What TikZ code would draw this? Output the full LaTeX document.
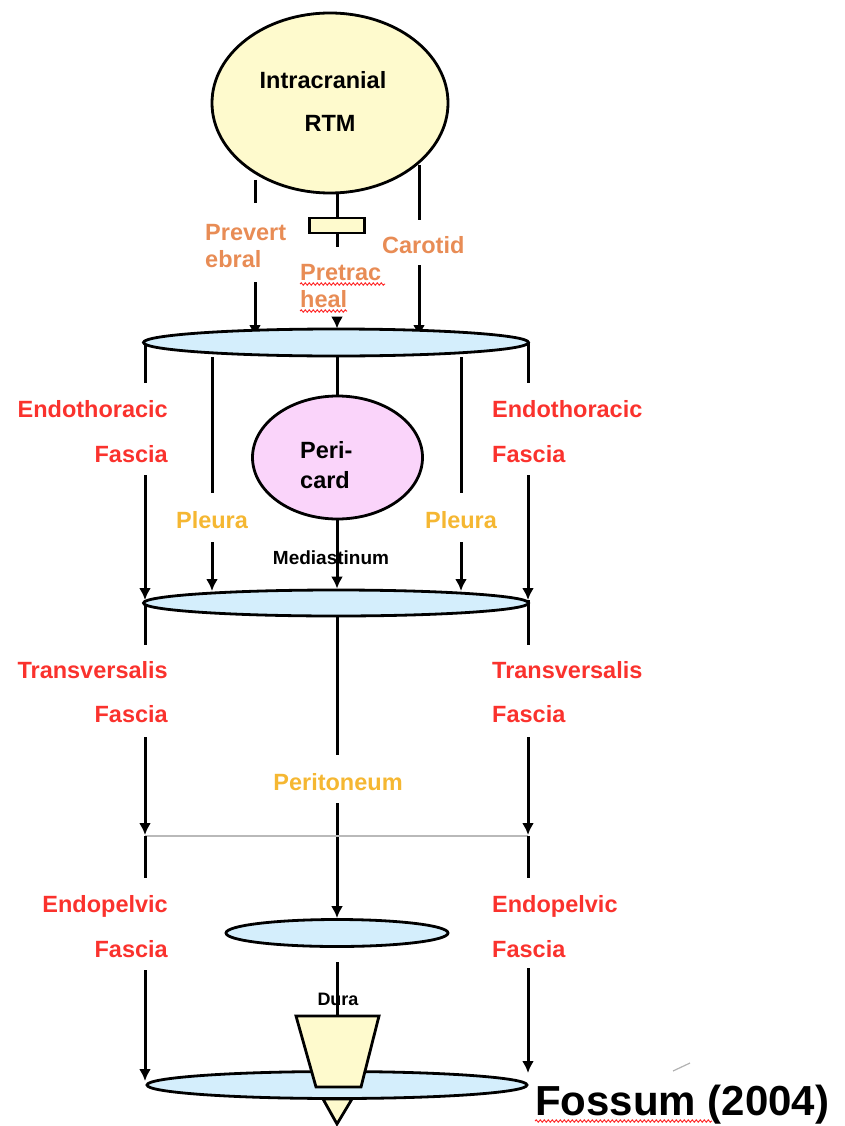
\documentclass[tikz,border=0pt]{standalone}
\usepackage{fontspec}
\setmainfont{Liberation Sans}
\usetikzlibrary{shapes.geometric,arrows.meta,decorations.pathmorphing,backgrounds}
\definecolor{redtxt}{RGB}{250,50,45}
\definecolor{orgtxt}{RGB}{232,140,85}
\definecolor{goldtxt}{RGB}{245,183,50}
\definecolor{yelfill}{RGB}{254,250,205}
\definecolor{bluefill}{RGB}{212,238,252}
\definecolor{pinkfill}{RGB}{250,212,250}
\begin{document}
\begin{tikzpicture}[x=1pt,y=-1pt,
  ln/.style={line width=3pt,black},
  arr/.style={ln,-{Latex[length=12pt,width=12pt]}},
  disc/.style={ellipse,draw,line width=2.8pt,inner sep=0pt,fill=bluefill},
  lbl/.style={font=\fontsize{23.5}{27}\selectfont\bfseries,inner sep=0pt},
  redl/.style={lbl,text=redtxt},
  orgl/.style={lbl,text=orgtxt},
  goldl/.style={lbl,text=goldtxt},
  blk/.style={lbl,text=black},
  squig/.style={red!85,line width=1pt,decorate,decoration={snake,amplitude=1.1pt,segment length=4pt}}]
\useasboundingbox (0,0) rectangle (844,1126);
% ellipses
\node[disc,fill=yelfill,minimum width=236pt,minimum height=180pt] (icr) at (330,103) {};
\node[draw,line width=2.8pt,fill=yelfill,minimum width=55pt,minimum height=15pt,inner sep=0pt] (rect) at (337,225.5) {};
\node[disc,minimum width=385pt,minimum height=27pt] (e2) at (336,342.5) {};
\node[disc,fill=pinkfill,minimum width=170pt,minimum height=123pt] (peri) at (337.5,457.5) {};
\node[disc,minimum width=385pt,minimum height=26pt] (e3) at (336,603) {};
\node[disc,minimum width=222pt,minimum height=27pt] (e4) at (337,933) {};
\node[disc,minimum width=380pt,minimum height=27pt] (e5) at (337,1085) {};
% trapezoid and triangle
\coordinate (trapTop) at (337,1016);
\draw[ln,line width=2.8pt,fill=yelfill] (296,1016) -- (379,1016) -- (361,1087) -- (316,1087) -- cycle;
\draw[ln,line width=2.8pt,fill=yelfill] (323,1099) -- (352,1099) -- (337,1124) -- cycle;
% texts
\node[blk,anchor=base] (t1) at (323,89) {Intracranial};
\node[blk,anchor=base] (t2) at (330,132) {RTM};
\node[orgl,anchor=base west] (prev1) at (205,240) {Prevert};
\node[orgl,anchor=base west] (prev2) at (205,267) {ebral};
\node[orgl,anchor=base west] (pre1) at (300,280) {Pretrac};
\node[orgl,anchor=base west] (pre2) at (300,307) {heal};
\node[orgl,anchor=base west] (car) at (382,253) {Carotid};
\node[redl,anchor=base east] (eL1) at (168,417) {Endothoracic};
\node[redl,anchor=base east] (eL2) at (168,462) {Fascia};
\node[redl,anchor=base west] (eR1) at (492,417) {Endothoracic};
\node[redl,anchor=base west] (eR2) at (492,462) {Fascia};
\node[goldl,anchor=base] (plL) at (212,528) {Pleura};
\node[goldl,anchor=base] (plR) at (461,528) {Pleura};
\node[blk,anchor=base west] (p1) at (300,458) {Peri-};
\node[blk,anchor=base west] (p2) at (300,488) {card};
\node[blk,anchor=base,font=\fontsize{19}{22}\selectfont\bfseries] (med) at (331,564) {Mediastinum};
\node[redl,anchor=base east] (tL1) at (168,678) {Transversalis};
\node[redl,anchor=base east] (tL2) at (168,722) {Fascia};
\node[redl,anchor=base west] (tR1) at (492,678) {Transversalis};
\node[redl,anchor=base west] (tR2) at (492,722) {Fascia};
\node[goldl,anchor=base] (perit) at (338,790) {Peritoneum};
\node[redl,anchor=base east] (pL1) at (168,912) {Endopelvic};
\node[redl,anchor=base east] (pL2) at (168,957) {Fascia};
\node[redl,anchor=base west] (pR1) at (492,912) {Endopelvic};
\node[redl,anchor=base west] (pR2) at (492,957) {Fascia};
\node[blk,anchor=base,font=\fontsize{18}{21}\selectfont\bfseries] (dura) at (338,1005) {Dura};
\node[blk,anchor=base west,font=\fontsize{42}{48}\selectfont\bfseries] (fos) at (535,1115) {Fossum (2004)};
% spelling squiggles
\draw[squig] (300,284) -- (385,284);
\draw[squig] (300,311) -- (347,311);
\draw[squig] (535,1121) -- (712,1121);
% stray mark
\draw[gray!60,line width=1.2pt] (673,1071) -- (690,1063);
% connectors
\begin{scope}[on background layer]
  % top
  \draw[ln] (255,180) -- (255,203);
  \draw[arr] (255,282) -- (255,337);
  \draw[ln] (icr.south -| rect.north) -- (rect.north);
  \draw[ln] (rect.south) -- (337,247);
  \draw[arr] (337,323) -- ([yshift=-1pt]e2.north -| rect.north);
  \draw[ln] (419,165) -- (419,220);
  \draw[arr] (419,265) -- (419,337);
  % thorax
  \draw[ln] (145,343) -- (145,383);
  \draw[arr] (145,475) -- (145,600);
  \draw[ln] (145,600) -- (145,645);
  \draw[ln] (528,343) -- (528,383);
  \draw[arr] (528,475) -- (528,600);
  \draw[ln] (528,600) -- (528,645);
  \draw[ln] (212,357) -- (212,493);
  \draw[arr] (212,542) -- (212,591);
  \draw[ln] (461,357) -- (461,493);
  \draw[arr] (461,542) -- (461,591);
  \draw[ln] (e2.south -| rect.north) -- (peri.north -| rect.north);
  \draw[arr] (peri.south -| rect.north) -- (e3.north -| rect.north);
  % abdomen
  \draw[arr] (145,737) -- (145,835);
  \draw[arr] (528,737) -- (528,835);
  \draw[ln] (e3.south -| rect.north) -- (337,755);
  \draw[arr] (337,803) -- (e4.north);
  \draw[gray!55,line width=1.5pt] (145,836) -- (528,836);
  % pelvis
  \draw[ln] (145,836) -- (145,878);
  \draw[arr] (145,970) -- (145,1081);
  \draw[ln] (528,836) -- (528,878);
  \draw[arr] (528,968) -- (528,1073);
  \draw[ln] (337,962) -- (trapTop);
\end{scope}
\end{tikzpicture}
\end{document}
